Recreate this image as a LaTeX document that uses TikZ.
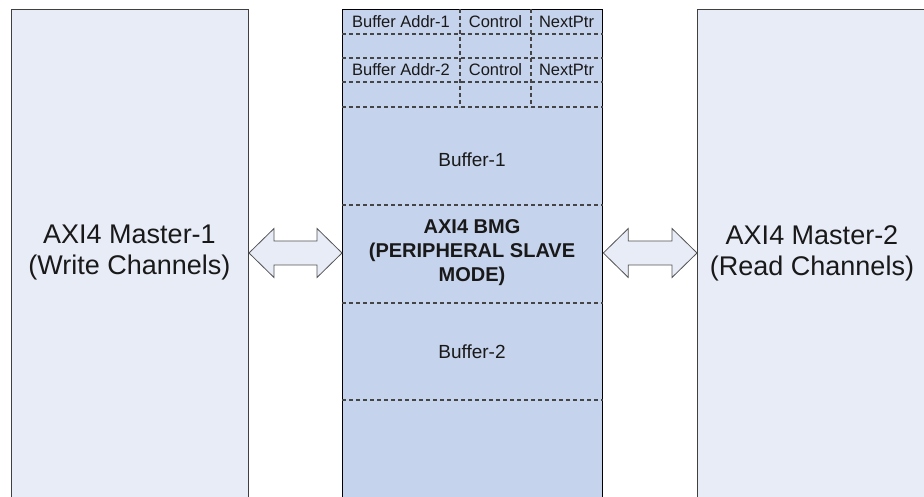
\documentclass[tikz,border=0pt]{standalone}
\usepackage{fontspec}
\setmainfont{Liberation Sans}
\definecolor{lightbox}{HTML}{E8ECF7}
\definecolor{midbox}{HTML}{C6D3EC}
\definecolor{edge}{HTML}{404040}
\definecolor{dashc}{HTML}{454545}
\begin{document}
\begin{tikzpicture}[x=1pt,y=1pt,
  masterbox/.style={draw=edge,line width=1pt,fill=lightbox,inner sep=0pt,minimum width=237pt,minimum height=500pt,anchor=north west},
  bmgbox/.style={draw=black,line width=1.3pt,fill=midbox,inner sep=0pt,minimum width=260pt,minimum height=500pt,anchor=north west},
  dline/.style={draw=dashc,line width=1.1pt,dash pattern=on 4pt off 3pt},
  bigtxt/.style={font=\fontsize{27}{31}\selectfont,align=center,text=black!90},
  celltxt/.style={font=\fontsize{16.5}{19}\selectfont,text=black!90},
  buftxt/.style={font=\fontsize{19}{22}\selectfont,text=black!90},
  boldtxt/.style={font=\fontsize{20}{24}\selectfont\bfseries,align=center,text=black!90},
  barrow/.style={draw=edge!90,line width=0.8pt,fill=lightbox,line join=miter}]
\useasboundingbox (0,0) rectangle (924,497);
\clip (0,0) rectangle (924,497);
\fill[white] (0,0) rectangle (924,497);
% boxes
\node[masterbox] (m1) at (11,488) {};
\node[bmgbox] (bmg) at (342,488) {};
\node[masterbox] (m2) at (697,488) {};
% labels
\node[bigtxt] (t1) at (129.5,244) {AXI4 Master-1\\(Write Channels)};
\node[bigtxt] (t2) at (812,244) {AXI4 Master-2\\(Read Channels)};
% descriptor rows
\draw[dline] (bmg.west |- 0,463) -- (bmg.east |- 0,463);
\draw[dline] (bmg.west |- 0,439) -- (bmg.east |- 0,439);
\draw[dline] (bmg.west |- 0,415) -- (bmg.east |- 0,415);
\draw[dline] (bmg.west |- 0,390) -- (bmg.east |- 0,390);
\draw[dline] (460,488) -- (460,390);
\draw[dline] (531,488) -- (531,390);
\node[celltxt] (a1) at (401,475.5) {Buffer Addr-1};
\node[celltxt] (c1) at (495.5,475.5) {Control};
\node[celltxt] (n1) at (566.5,475.5) {NextPtr};
\node[celltxt] (a2) at (401,427) {Buffer Addr-2};
\node[celltxt] (c2) at (495.5,427) {Control};
\node[celltxt] (n2) at (566.5,427) {NextPtr};
% buffers
\node[buftxt] (b1) at (472,337) {Buffer-1};
\draw[dline] (bmg.west |- 0,292) -- (bmg.east |- 0,292);
\node[boldtxt] (core) at (472,244) {AXI4 BMG\\(PERIPHERAL SLAVE\\MODE)};
\draw[dline] (bmg.west |- 0,194) -- (bmg.east |- 0,194);
\node[buftxt] (b2) at (472,145) {Buffer-2};
\draw[dline] (bmg.west |- 0,97) -- (bmg.east |- 0,97);
% arrows
\coordinate (la) at (m1.east |- 0,244);
\coordinate (lb) at (bmg.west |- 0,244);
\coordinate (ra) at (bmg.east |- 0,244);
\coordinate (rb) at (m2.west |- 0,244);
\draw[barrow] (la) -- ++(25,24.5) -- ++(0,-12.5) -- ([xshift=-25pt,yshift=12pt]lb) -- ++(0,12.5) -- (lb)
  -- ++(-25,-24.5) -- ++(0,12.5) -- ([xshift=25pt,yshift=-12pt]la) -- ++(0,-12.5) -- cycle;
\draw[barrow] (ra) -- ++(25,24.5) -- ++(0,-12.5) -- ([xshift=-25pt,yshift=12pt]rb) -- ++(0,12.5) -- (rb)
  -- ++(-25,-24.5) -- ++(0,12.5) -- ([xshift=25pt,yshift=-12pt]ra) -- ++(0,-12.5) -- cycle;
\end{tikzpicture}
\end{document}
